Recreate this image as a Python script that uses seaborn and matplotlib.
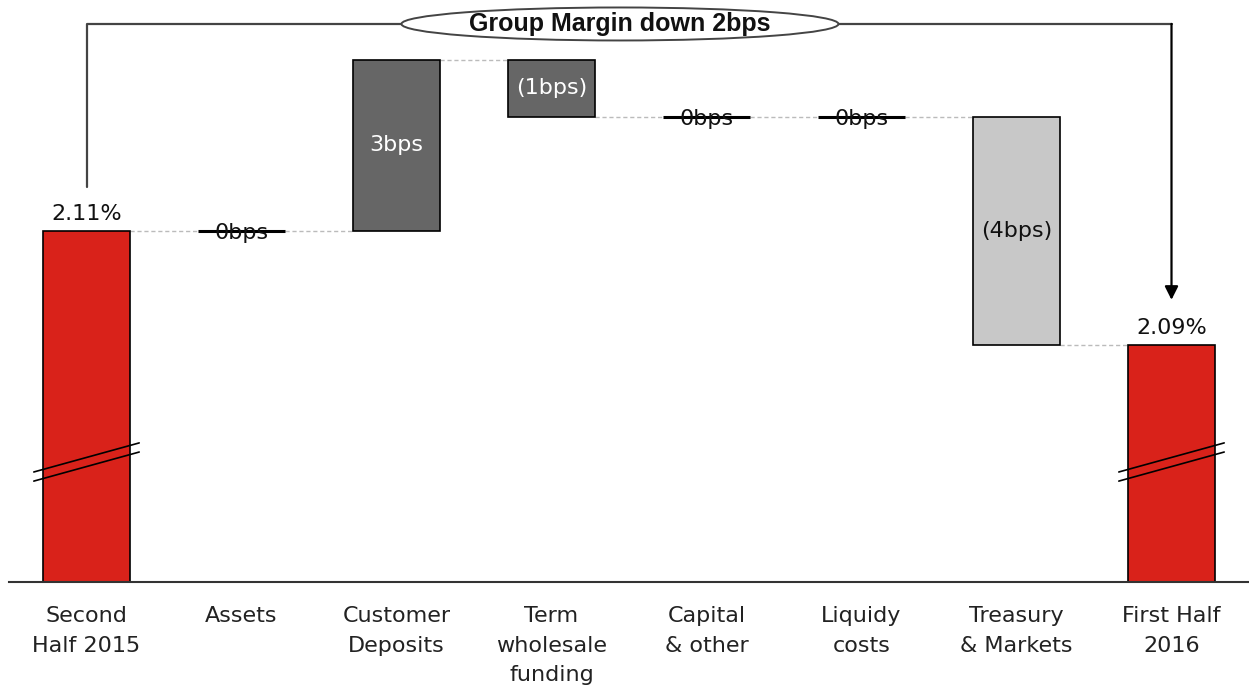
import numpy as np
import pandas as pd
import seaborn as sns
import matplotlib.pyplot as plt
from matplotlib.patches import Ellipse

# data (percent / basis points)
categories = ['Second\nHalf 2015', 'Assets', 'Customer\nDeposits', 'Term\nwholesale\nfunding',
              'Capital\n& other', 'Liquidy\ncosts', 'Treasury\n& Markets', 'First Half\n2016']
start_value = 2.11
changes_bps = [0, 3, -1, 0, 0, -4]
end_value = 2.09
bar_labels = ['2.11%', '0bps', '3bps', '(1bps)', '0bps', '0bps', '(4bps)', '2.09%']
bar_colors = ['#D9221A', '#666666', '#666666', '#666666', '#666666', '#666666', '#C8C8C8', '#D9221A']
label_colors = ['#111111', '#111111', 'white', 'white', '#111111', '#111111', '#111111', '#111111']

# waterfall bottoms / heights
levels = [start_value]
for c in changes_bps:
    levels.append(levels[-1] + c / 100)
bottoms = [0]
heights = [start_value]
for i, c in enumerate(changes_bps):
    bottoms.append(min(levels[i], levels[i + 1]))
    heights.append(abs(c) / 100)
bottoms.append(0)
heights.append(end_value)
df = pd.DataFrame({'cat': categories, 'height': heights, 'bottom': bottoms})

sns.set_style('white')
plt.rcParams['font.family'] = ['DejaVu Sans']

fig = plt.figure(figsize=(12.49, 6.91), dpi=100)
ax = fig.add_axes([9 / 1249, 1 - 582 / 691, 1240 / 1249, 582 / 691])

sns.barplot(data=df, x='cat', y='height', bottom=df['bottom'].values, order=categories,
            color='#666666', edgecolor='black', linewidth=1.2, width=0.56,
            errorbar=None, ax=ax)

ylo, yhi = 2.0484, 2.1505
ax.set_xlim(-0.5, 7.5)
ax.set_ylim(ylo, yhi)

for p, col, h in zip(ax.patches, bar_colors, heights):
    p.set_facecolor(col)
    if h == 0:
        p.set_linewidth(2.2)

# labels
fs = 16
tops = [start_value] + [max(levels[i], levels[i + 1]) for i in range(len(changes_bps))] + [end_value]
for i, (lab, col) in enumerate(zip(bar_labels, label_colors)):
    if i in (0, len(categories) - 1):
        ax.text(i, tops[i] + 0.0012, lab, ha='center', va='bottom', fontsize=fs, color=col)
    elif heights[i] == 0:
        ax.text(i, bottoms[i] - 0.0003, lab, ha='center', va='center', fontsize=fs, color=col)
    else:
        ax.text(i, bottoms[i] + heights[i] / 2, lab, ha='center', va='center', fontsize=fs, color=col)

# dotted connectors between bars
for i in range(len(levels)):
    ax.plot([i + 0.28, i + 1 - 0.28], [levels[i], levels[i]], color='#BBBBBB',
            linestyle=(0, (3, 2)), lw=1, zorder=0)

# axis break marks on the total bars
for i in (0, len(categories) - 1):
    for off in (0, -0.0016):
        ax.plot([i - 0.34, i + 0.34], [2.0677 + off, 2.0728 + off], color='black', lw=1.2, zorder=5)

# overall bracket
ybr = 2.1463
ax.plot([0, 0, 7], [2.1177, ybr, ybr], color='#444444', lw=1.6, zorder=3)
ax.annotate('', xy=(7, 2.0979), xytext=(7, ybr),
            arrowprops=dict(arrowstyle='-|>', color='black', lw=1.6, mutation_scale=20,
                            shrinkA=0, shrinkB=0), zorder=3)
ell = Ellipse((0.4927, 0.9588), 0.3524, 0.0567, transform=ax.transAxes,
              facecolor='white', edgecolor='#444444', lw=1.4, zorder=4)
ax.add_patch(ell)
ax.text(0.4927, 0.9588, 'Group Margin down 2bps', transform=ax.transAxes,
        ha='center', va='center', fontsize=18, fontweight='bold', zorder=5,
        family=['Liberation Sans', 'DejaVu Sans'], color='#111111')

ax.set_xlabel('')
ax.set_ylabel('')
ax.set_yticks([])
ax.tick_params(axis='x', length=0, pad=17, labelsize=fs, labelcolor='#222222')
for lbl in ax.get_xticklabels():
    lbl.set_linespacing(1.62)
for s in ['top', 'right', 'left']:
    ax.spines[s].set_visible(False)
ax.spines['bottom'].set_color('#333333')
ax.spines['bottom'].set_linewidth(1.5)

fig.savefig('out.png', dpi=100)
